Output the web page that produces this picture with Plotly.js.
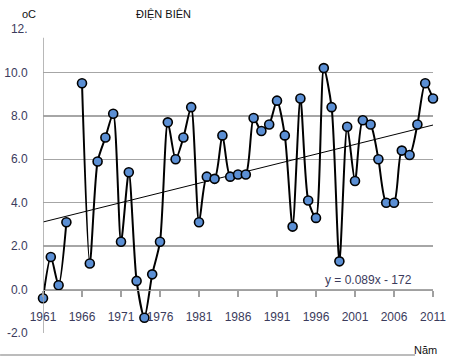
<!DOCTYPE html>
<html>
<head>
<meta charset="utf-8">
<script src="https://cdn.plot.ly/plotly-3.0.1.min.js"></script>
<style>html,body{margin:0;padding:0;background:#fff;}#chart{width:457px;height:360px;}</style>
</head>
<body>
<div id="chart"></div>
<script>
const years = [1961,1962,1963,1964,1965,1966,1967,1968,1969,1970,1971,1972,1973,1974,1975,1976,1977,1978,1979,1980,1981,1982,1983,1984,1985,1986,1987,1988,1989,1990,1991,1992,1993,1994,1995,1996,1997,1998,1999,2000,2001,2002,2003,2004,2005,2006,2007,2008,2009,2010,2011];
const temps = [-0.4,1.5,0.2,3.1,null,9.5,1.2,5.9,7.0,8.1,2.2,5.4,0.4,-1.3,0.7,2.2,7.7,6.0,7.0,8.4,3.1,5.2,5.1,7.1,5.2,5.3,5.3,7.9,7.3,7.6,8.7,7.1,2.9,8.8,4.1,3.3,10.2,8.4,1.3,7.5,5.0,7.8,7.6,6.0,4.0,4.0,6.4,6.2,7.6,9.5,8.8];
const yTickVals = [-2,0,2,4,6,8,10,12];
const yTickText = ["-2.0","0.0","2.0","4.0","6.0","8.0","10.0","12."];
const xTickVals = [1961,1966,1971,1976,1981,1986,1991,1996,2001,2006,2011];
const titleText = "ĐIỆN BIÊN";
const yUnit = "oC";
const xUnit = "Năm";
const equationText = "y = 0.089x - 172";

// least squares trend from data
const pts = years.map((y,i)=>[y,temps[i]]).filter(p=>p[1]!==null);
const n = pts.length;
const mx = pts.reduce((s,p)=>s+p[0],0)/n;
const my = pts.reduce((s,p)=>s+p[1],0)/n;
let sxy=0, sxx=0;
pts.forEach(p=>{sxy+=(p[0]-mx)*(p[1]-my); sxx+=(p[0]-mx)*(p[0]-mx);});
const slope = sxy/sxx, icpt = my - slope*mx;
const trendX = [years[0], years[years.length-1]];
const trendY = trendX.map(x=>slope*x+icpt);

const font = {family:'"Liberation Sans", Arial, sans-serif', size:12, color:'#3b3b5c'};

const data = [
  {x:trendX, y:trendY, mode:'lines', line:{color:'#000', width:1}, hoverinfo:'skip', cliponaxis:false},
  {x:years, y:temps, mode:'lines+markers', connectgaps:false, cliponaxis:false,
   line:{color:'#000', width:2, shape:'spline', smoothing:0.7},
   marker:{size:9, color:'#5b8fd4', line:{color:'#000', width:1.6}}}
];

const layout = {
  width:457, height:360,
  margin:{l:43, r:24, t:29, b:27},
  paper_bgcolor:'#fff', plot_bgcolor:'#fff',
  showlegend:false,
  font:font,
  xaxis:{range:[1961,2011], anchor:'free', position:2/14, showline:true, linecolor:'#a0a0a0', linewidth:1.5,
    showgrid:false, zeroline:false, tickvals:xTickVals, ticks:'outside', ticklen:6, tickcolor:'#a0a0a0', tickwidth:1.5,
    ticklabelstandoff:10, tickfont:font},
  yaxis:{range:[-2,12], showline:false, showgrid:true, gridcolor:'#a6a6a6', gridwidth:1.5, zeroline:false,
    tickvals:yTickVals, ticktext:yTickText, ticks:'outside', ticklen:12, tickcolor:'rgba(0,0,0,0)', tickfont:font},
  shapes:[
    {type:'line', xref:'x', yref:'y', x0:1961, x1:1961, y0:-2, y1:11.6, line:{color:'#a0a0a0', width:1.5}},
    {type:'line', xref:'paper', yref:'paper', x0:-0.11, x1:0.954, y0:-0.0724, y1:-0.0724, line:{color:'#a6a6a6', width:1.5}}
  ],
  annotations:[
    {text:titleText, xref:'paper', yref:'paper', x:(163-43)/390, y:1+(29-14)/304, showarrow:false, xanchor:'center', yanchor:'middle', font:{family:'"Liberation Sans", Arial, sans-serif', size:11, color:'#111'}},
    {text:yUnit, xref:'paper', yref:'paper', x:(29-43)/390, y:1+(29-14)/304, showarrow:false, xanchor:'center', yanchor:'middle', font:{family:'"Liberation Sans", Arial, sans-serif', size:11, color:'#111'}},
    {text:xUnit, xref:'paper', yref:'paper', x:(425-43)/390, y:-(350-333)/304, showarrow:false, xanchor:'center', yanchor:'middle', font:{family:'"Liberation Sans", Arial, sans-serif', size:11, color:'#111'}},
    {text:equationText, xref:'paper', yref:'paper', x:(368-43)/390, y:(333-280)/304, showarrow:false, xanchor:'center', yanchor:'middle', font:font}
  ]
};

Plotly.newPlot('chart', data, layout, {staticPlot:true, displayModeBar:false});
</script>
</body>
</html>
